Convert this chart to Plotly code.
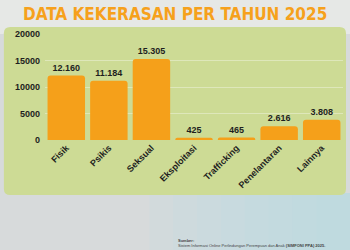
import plotly.graph_objects as go

categories = ["Fisik", "Psikis", "Seksual", "Eksploitasi", "Trafficking", "Penelantaran", "Lainnya"]
values = [12160, 11184, 15305, 425, 465, 2616, 3808]
value_labels = ["12.160", "11.184", "15.305", "425", "465", "2.616", "3.808"]
y_ticks = [0, 5000, 10000, 15000, 20000]

bold_font = dict(family="Liberation Sans, Arial", size=9, color="#1e1e1e", weight="bold")

fig = go.Figure(go.Bar(
    x=categories, y=values, text=value_labels, textposition="outside",
    textfont=bold_font,
    marker=dict(color="#f5a01a", cornerradius=3, line_width=0),
    cliponaxis=False,
))

# rounded panel path in paper coords
x0, x1, y0, y1 = -0.138, 1.01, -0.519, 1.066
rx, ry = 0.022, 0.06
panel_path = (
    f"M {x0+rx},{y0} L {x1-rx},{y0} Q {x1},{y0} {x1},{y0+ry} "
    f"L {x1},{y1-ry} Q {x1},{y1} {x1-rx},{y1} "
    f"L {x0+rx},{y1} Q {x0},{y1} {x0},{y1-ry} "
    f"L {x0},{y0+ry} Q {x0},{y0} {x0+rx},{y0} Z"
)

shapes = []
# soft bluish gradient at lower right
for i in range(8):
    shapes.append(dict(type="rect", xref="paper", yref="paper", layer="below",
                       x0=0.35 + i * 0.08, x1=1.03, y0=-1.05, y1=-0.5,
                       fillcolor="#b6dcea", line_width=0, opacity=0.12))
shapes += [
    dict(type="rect", xref="paper", yref="paper", layer="below",
         x0=-0.16, x1=1.03, y0=1.0, y1=1.33,
         fillcolor="#e6e8e6", line_width=0),
    dict(type="path", xref="paper", yref="paper", layer="below",
         path=panel_path, fillcolor="#cddb95", line_width=0),
]

fig.update_layout(
    width=350, height=250,
    margin=dict(l=45, r=7, t=34, b=110),
    paper_bgcolor="#d7dadb",
    plot_bgcolor="rgba(0,0,0,0)",
    bargap=0.12,
    showlegend=False,
    font=dict(family="Liberation Sans", color="#222"),
    shapes=shapes,
    annotations=[
        dict(text="DATA KEKERASAN PER TAHUN 2025", xref="paper", yref="paper",
             x=0.5, y=1.19, xanchor="center", yanchor="middle", showarrow=False,
             xshift=-19,
             font=dict(family="DejaVu Sans Condensed, Roboto", size=17, color="#f6a11c", weight="bold")),
        dict(text="<b>Sumber:</b><br>Sistem Informasi Online Perlindungan Perempuan dan Anak <b>(SIMFONI PPA) 2025.</b>",
             xref="paper", yref="paper", x=0.44, y=-1.04, xanchor="left", yanchor="bottom",
             showarrow=False, align="left",
             font=dict(family="Liberation Sans", size=4, color="#444")),
    ],
)
fig.update_xaxes(tickangle=-45, tickfont=bold_font,
                 showgrid=False, showline=False, ticks="")
fig.update_yaxes(range=[0, 20000], tickvals=y_ticks, ticktext=[str(v) for v in y_ticks],
                 tickfont=bold_font,
                 showgrid=True, gridcolor="rgba(255,255,255,0.35)", gridwidth=1,
                 zeroline=False, showline=False, ticks="", ticklabelstandoff=4)

fig.write_html("out.html")
